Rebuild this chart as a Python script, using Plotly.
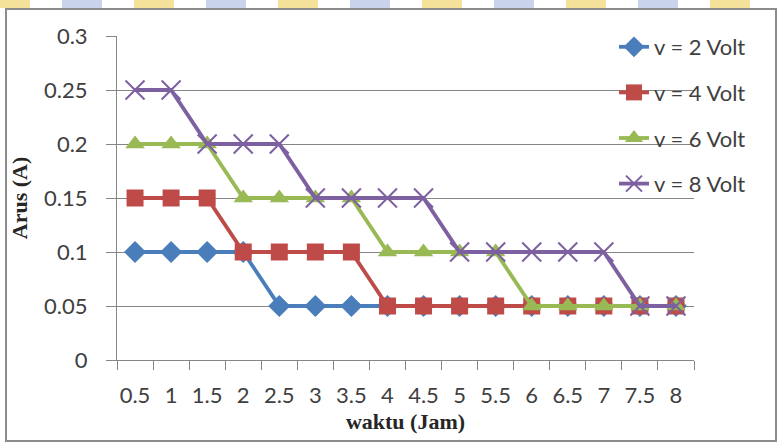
import plotly.graph_objects as go

waktu = ["0.5", "1", "1.5", "2", "2.5", "3", "3.5", "4", "4.5", "5", "5.5", "6", "6.5", "7", "7.5", "8"]
v2 = [0.1, 0.1, 0.1, 0.1, 0.05, 0.05, 0.05, 0.05, 0.05, 0.05, 0.05, 0.05, 0.05, 0.05, 0.05, 0.05]
v4 = [0.15, 0.15, 0.15, 0.1, 0.1, 0.1, 0.1, 0.05, 0.05, 0.05, 0.05, 0.05, 0.05, 0.05, 0.05, 0.05]
v6 = [0.2, 0.2, 0.2, 0.15, 0.15, 0.15, 0.15, 0.1, 0.1, 0.1, 0.1, 0.05, 0.05, 0.05, 0.05, 0.05]
v8 = [0.25, 0.25, 0.2, 0.2, 0.2, 0.15, 0.15, 0.15, 0.15, 0.1, 0.1, 0.1, 0.1, 0.1, 0.05, 0.05]
y_ticks = [0, 0.05, 0.1, 0.15, 0.2, 0.25, 0.3]
y_labels = ["0", "0.05", "0.1", "0.15", "0.2", "0.25", "0.3"]
names = ["v = 2 Volt", "v = 4 Volt", "v = 6 Volt", "v = 8 Volt"]

W, H = 778, 445
L, R, T, B = 117, 694, 36, 360

def px(x):
    return (x - L) / (R - L)

def py(y):
    return (B - y) / (B - T)

fig = go.Figure()
series = [v2, v4, v6, v8]
colors = ["#4A7EBB", "#BE4B48", "#98B954", "#7D60A0"]
symbols = ["diamond", "square", "triangle-up", "x-thin-open"]
sizes = [17, 17, 17, 19]
for i, (s, n) in enumerate(zip(series, names)):
    fig.add_trace(go.Scatter(
        x=waktu, y=s, name=n, mode="lines+markers",
        legendgroup=f"g{i}",
        line=dict(color=colors[i], width=3.8),
        marker=dict(symbol=symbols[i], size=sizes[i], color=colors[i],
                    line=dict(color=colors[i], width=2 if i == 3 else 0)),
    ))

fig.update_layout(
    width=W, height=H,
    margin=dict(l=L, r=W - R, t=T, b=H - B),
    paper_bgcolor="white", plot_bgcolor="white",
    font=dict(family="Lato, Open Sans, sans-serif", color="#404040", size=22),
    showlegend=True,
    legend=dict(x=px(614), y=py(26), xanchor="left", yanchor="top",
                bgcolor="rgba(0,0,0,0)", font=dict(size=22, color="#404040"),
                tracegroupgap=14, itemwidth=30),
    xaxis=dict(type="category", range=[-0.5, 15.5], showgrid=False,
               showline=True, linecolor="#868686", linewidth=1,
               ticks="outside", ticklen=9, tickcolor="#868686",
               tickson="boundaries", ticklabelstandoff=16, tickangle=0,
               tickfont=dict(size=22, color="#404040"),
               title=dict(text="<b>waktu (Jam)</b>", standoff=6,
                          font=dict(family="Liberation Serif, Times New Roman, serif",
                                    size=22, color="#262626"))),
    yaxis=dict(range=[0, 0.3], tickvals=y_ticks, ticktext=y_labels,
               showgrid=True, gridcolor="#868686", gridwidth=1,
               showline=True, linecolor="#868686", linewidth=1,
               zeroline=False,
               ticks="outside", ticklen=10, tickcolor="#868686",
               ticklabelstandoff=14,
               tickfont=dict(size=22, color="#404040"),
               title=dict(text="<b>Arus (A)</b>", standoff=10,
                          font=dict(family="Liberation Serif, Times New Roman, serif",
                                    size=22, color="#262626"))),
)

# chart border
fig.add_shape(type="rect", xref="paper", yref="paper",
              x0=px(6), x1=px(776), y0=py(441), y1=py(9),
              line=dict(color="#8C8C8C", width=2), layer="below")
# faint watermark band at the top
wm_colors = ["#F4E29A", "#C9D3EC"]
for k in range(11):
    fig.add_shape(type="rect", xref="paper", yref="paper",
                  x0=px(k * 72 - 10), x1=px(k * 72 + 30), y0=py(8), y1=py(0),
                  fillcolor=wm_colors[k % 2], line=dict(width=0), layer="below")

fig.write_html("out.html")
